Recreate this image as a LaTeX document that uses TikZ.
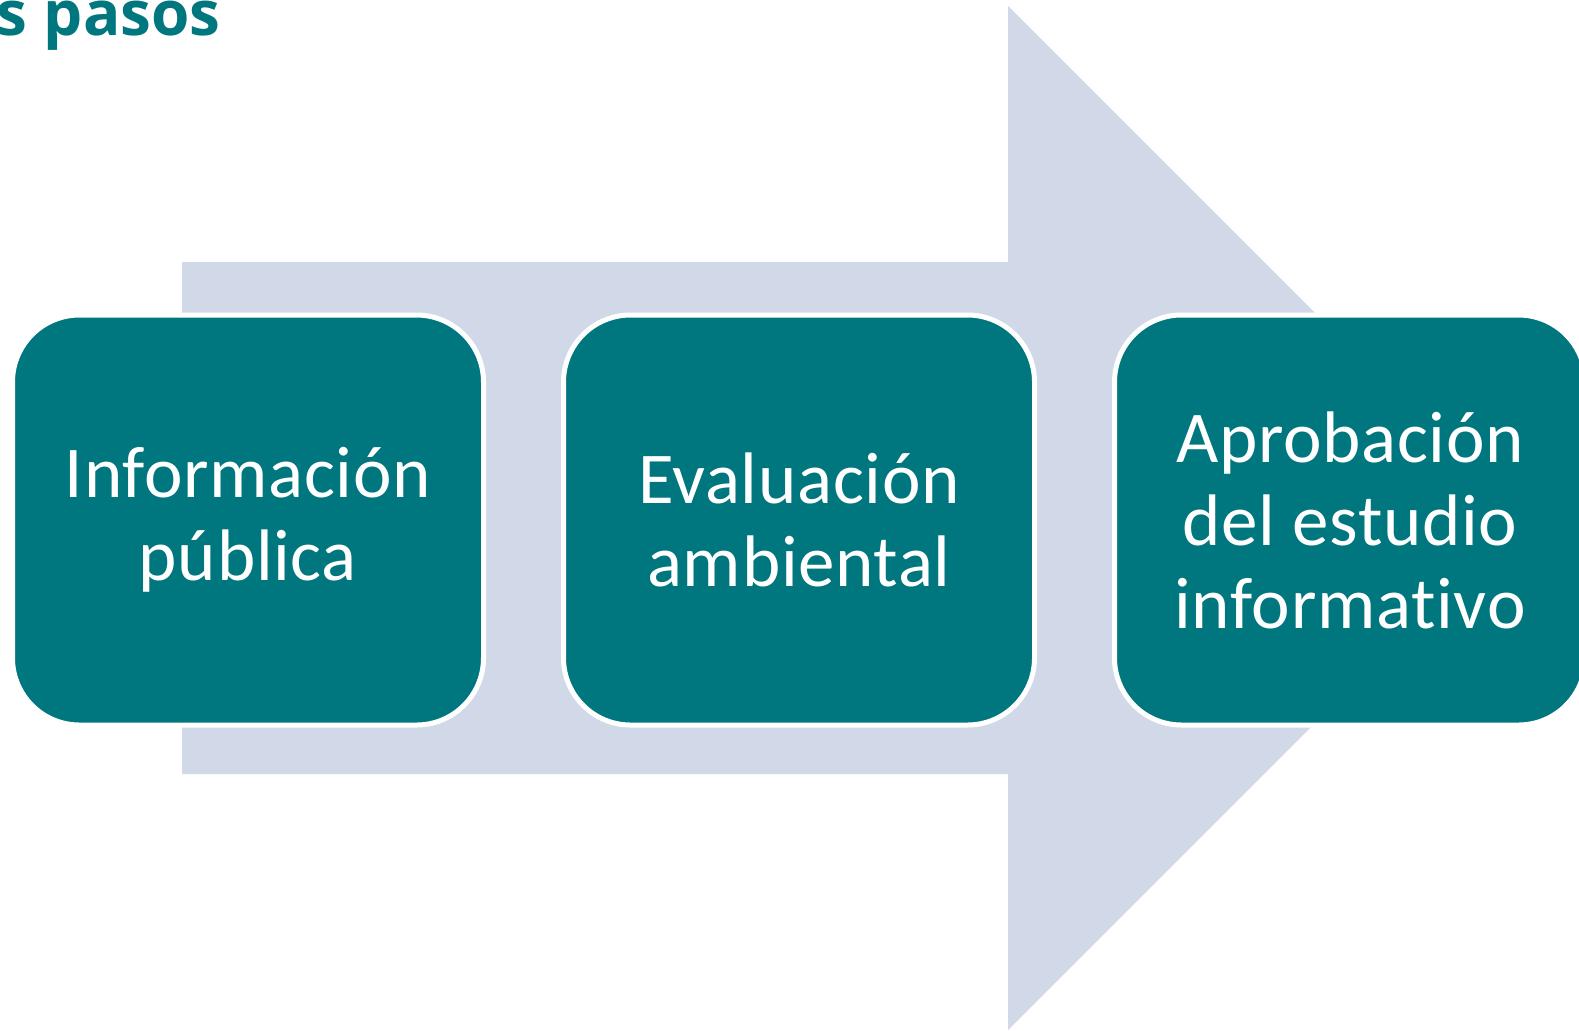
\documentclass[tikz,border=0pt]{standalone}
\usepackage{fontspec}
\setmainfont[RawFeature={-liga;-clig;-dlig}, LetterSpace=1]{Carlito}
\newfontfamily\titlefont{Open Sans}
\definecolor{tealbox}{RGB}{0,118,126}
\definecolor{arrowfill}{RGB}{209,216,231}
\begin{document}
\begin{tikzpicture}[x=0.5pt,y=-0.5pt,
  stepbox/.style={draw=white, line width=2.5pt, fill=tealbox, rounded corners=33.5pt,
    minimum width=235.5pt, minimum height=205pt, inner sep=0pt, text=white, align=center,
    font=\fontsize{36.5}{41.5}\selectfont}]
\useasboundingbox (0,0) rectangle (1579,1030);
\clip (0,0) rectangle (1579,1030);
\fill[white] (0,0) rectangle (1579,1030);
\node[anchor=base east, inner sep=0pt, text=tealbox, font=\titlefont\bfseries\fontsize{31}{36}\selectfont] (title) at (221,35) {s pasos};
\fill[arrowfill] (182,262) -- (1008,262) -- (1008,6) -- (1520,518) -- (1008,1030) -- (1008,774) -- (182,774) -- cycle;
\node[stepbox] (b1) at (248,520) {Información\\pública};
\node[stepbox] (b2) at (799,520) {Evaluación\\ambiental};
\node[stepbox] (b3) at (1350,520) {Aprobación\\del estudio\\informativo};
\end{tikzpicture}
\end{document}
